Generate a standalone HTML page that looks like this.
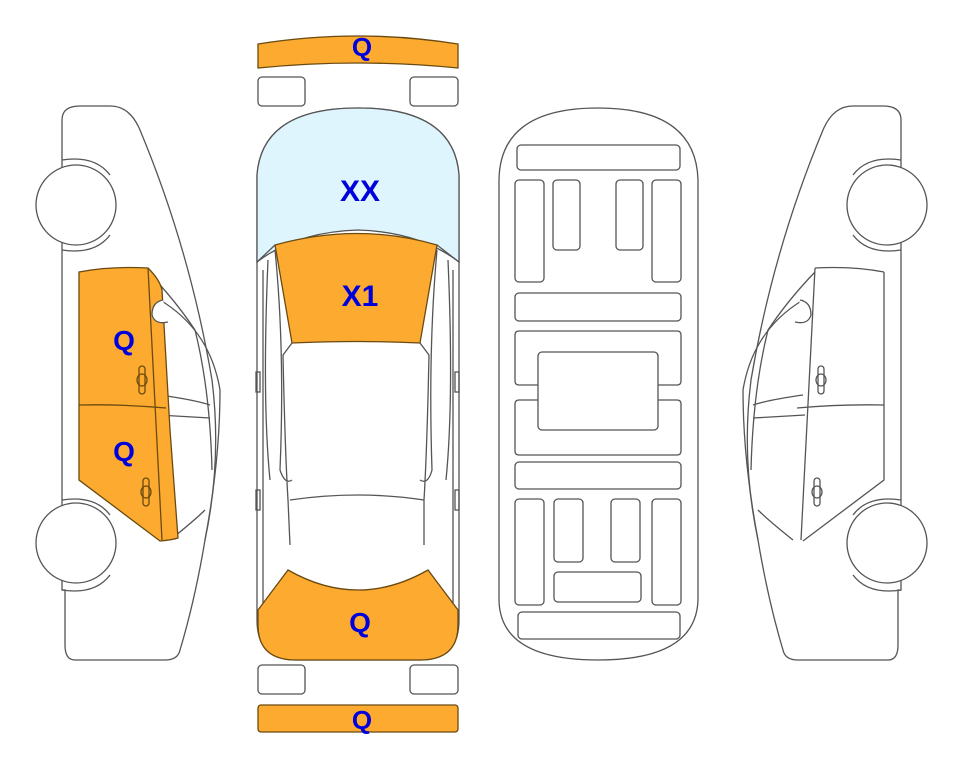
<!DOCTYPE html>
<html><head><meta charset="utf-8"><style>
html,body{margin:0;padding:0;background:#fff;}
svg{display:block}
text{font-family:"Liberation Sans",Arial,sans-serif;font-weight:bold;fill:#0000dd;}
</style></head><body>
<svg width="963" height="768" viewBox="0 0 963 768" xmlns="http://www.w3.org/2000/svg">
<g fill="none" stroke="#555" stroke-width="1.3">
<!-- bumpers top -->
<path d="M258,44 Q358,28 458,44 L458,68 Q358,58 258,68 Z" fill="#fdab30" stroke="#6a4a10"/>
<rect x="258" y="77" width="47" height="29" rx="4" fill="#fff"/>
<rect x="410" y="77" width="48" height="29" rx="4" fill="#fff"/>
<rect x="258" y="665" width="47" height="29" rx="4" fill="#fff"/>
<rect x="410" y="665" width="48" height="29" rx="4" fill="#fff"/>
<rect x="258" y="705" width="200" height="27" rx="3" fill="#fdab30" stroke="#6a4a10"/>

<!-- top view -->
<path d="M257,175 Q262,108 358,108 Q454,108 459,175 L459,620 Q459,660 420,660 L296,660 Q257,660 257,620 Z" fill="#fff"/>
<path d="M257,175 Q262,108 358,108 Q454,108 459,175 L459,262 Q420,232 358,230 Q296,232 257,262 Z" fill="#dff5fd"/>
<path d="M275,245 Q358,222 437,245 L420,343 Q358,340 292,343 Z" fill="#fdab30" stroke="#6a4a10"/>
<path d="M257,262 L275,245 M459,262 L437,245"/>
<path d="M292,343 L283,355 Q285,450 288,500 L290,545 M420,343 L429,355 Q427,450 424,500 L424,545"/>
<path d="M290,500 Q358,490 424,500"/>
<path d="M268,260 Q262,400 270,480 M448,260 Q454,400 446,480"/>
<path d="M263,270 L263,620 M453,270 L453,620"/>
<path d="M275,250 Q285,350 280,470 Q285,485 292,480 M437,250 Q428,350 432,470 Q428,485 420,480"/>
<rect x="256" y="372" width="4" height="20"/><rect x="455" y="372" width="4" height="20"/>
<rect x="256" y="490" width="4" height="20"/><rect x="455" y="490" width="4" height="20"/>
<path d="M258,610 L288,570 Q358,610 428,570 L458,610 L458,625 Q458,660 420,660 L296,660 Q258,660 258,625 Z" fill="#fdab30" stroke="#6a4a10"/>

<!-- underside -->
<path d="M499,180 Q500,108 598,108 Q696,108 698,180 L698,600 Q696,660 598,660 Q500,660 499,600 Z" fill="#fff"/>
<rect x="517" y="145" width="163" height="25" rx="4"/>
<rect x="515" y="180" width="29" height="102" rx="4"/>
<rect x="553" y="180" width="27" height="70" rx="4"/>
<rect x="616" y="180" width="27" height="70" rx="4"/>
<rect x="652" y="180" width="29" height="102" rx="4"/>
<rect x="515" y="293" width="166" height="28" rx="4"/>
<path d="M538,385 L519,385 Q515,385 515,381 L515,335 Q515,331 519,331 L677,331 Q681,331 681,335 L681,381 Q681,385 677,385 L658,385"/>
<path d="M538,400 L519,400 Q515,400 515,404 L515,451 Q515,455 519,455 L677,455 Q681,455 681,451 L681,404 Q681,400 677,400 L658,400"/>
<rect x="538" y="352" width="120" height="78" rx="4" fill="#fff"/>
<rect x="515" y="462" width="166" height="27" rx="4"/>
<rect x="515" y="499" width="29" height="106" rx="4"/>
<rect x="554" y="499" width="29" height="63" rx="4"/>
<rect x="611" y="499" width="29" height="63" rx="4"/>
<rect x="652" y="499" width="29" height="106" rx="4"/>
<rect x="554" y="572" width="87" height="30" rx="4"/>
<rect x="518" y="612" width="162" height="27" rx="4"/>

<!-- left side car -->
<g id="side">
<path d="M62,150 L62,120 Q62,106 80,106 L110,106 Q130,106 140,130 Q190,250 212,380 Q222,460 205,540 Q195,600 180,650 Q178,660 165,660 L75,660 Q65,660 65,645 L65,590 L62,590 L62,500 L62,240 L62,150 Z" fill="#fff"/>
<path d="M62,160 Q95,155 110,175 M62,250 Q95,255 110,235 M62,500 Q95,495 110,515 M62,590 Q95,595 110,575"/>
<path d="M148,272 Q175,300 195,330 Q210,390 212,470"/>
<path d="M160,300 Q210,330 220,390 Q220,460 205,540"/>
<path d="M160,395 Q195,400 210,405 M158,415 L210,418 M170,540 Q195,520 205,510"/>
<circle cx="76" cy="205" r="40" fill="#fff"/>
<circle cx="76" cy="543" r="40" fill="#fff"/>
</g>
<path d="M79,272 Q110,266 148,268 Q160,280 162,290 L170,430 L178,538 Q172,540 160,541 L79,480 Z" fill="#fdab30" stroke="#6a4a10"/>
<path d="M79,405 Q120,404 166,408 M148,268 L162,540" stroke="#6a4a10"/>
<path d="M163,300 Q152,302 152,315 Q155,325 168,322" fill="#fff"/>
<rect x="139" y="366" width="6" height="28" rx="3" stroke="#6a4a10"/><ellipse cx="142" cy="380" rx="5" ry="6" stroke="#6a4a10"/>
<rect x="143" y="478" width="6" height="28" rx="3" stroke="#6a4a10"/><ellipse cx="146" cy="492" rx="5" ry="6" stroke="#6a4a10"/>

<!-- right side car (mirror) -->
<g transform="translate(963,0) scale(-1,1)">
<use href="#side"/>
<path d="M79,405 Q120,404 166,408 M148,268 L162,540 M79,272 Q110,266 148,268 M79,272 L79,480 L160,541"/>
<path d="M163,300 Q152,302 152,315 Q155,325 168,322" fill="#fff"/>
<rect x="139" y="366" width="6" height="28" rx="3"/><ellipse cx="142" cy="380" rx="5" ry="6"/>
<rect x="143" y="478" width="6" height="28" rx="3"/><ellipse cx="146" cy="492" rx="5" ry="6"/>
</g>
</g>
<text x="362" y="56" font-size="26" text-anchor="middle">Q</text>
<text x="360" y="201" font-size="30" text-anchor="middle">XX</text>
<text x="360" y="306" font-size="30" text-anchor="middle">X1</text>
<text x="360" y="632" font-size="28" text-anchor="middle">Q</text>
<text x="362" y="729" font-size="26" text-anchor="middle">Q</text>
<text x="124" y="350" font-size="28" text-anchor="middle">Q</text>
<text x="124" y="461" font-size="28" text-anchor="middle">Q</text>
</svg>
</body></html>
